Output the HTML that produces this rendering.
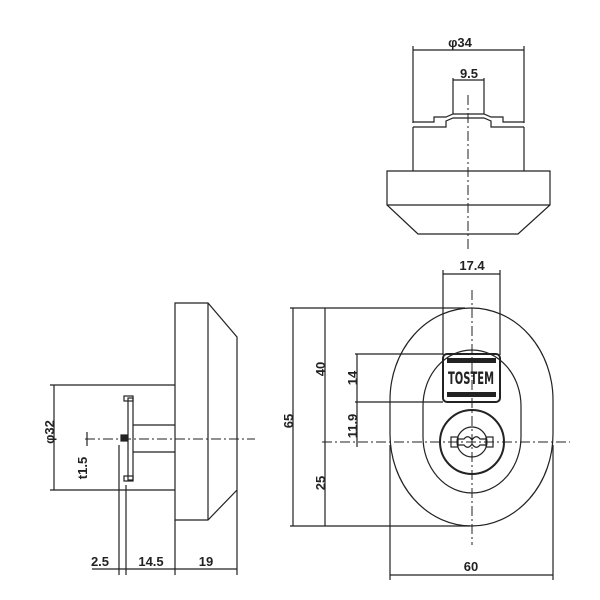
<!DOCTYPE html>
<html><head><style>body{margin:0;background:#fff}svg{display:block}text{font-family:"Liberation Sans",sans-serif;font-weight:bold;font-size:13px;fill:#222}</style></head><body>
<svg width="600" height="600" viewBox="0 0 600 600" xmlns="http://www.w3.org/2000/svg">
<g stroke="#222" fill="none" stroke-width="1.2">
<!-- Top view -->
<line x1="413" y1="50" x2="524" y2="50"/>
<line x1="413" y1="46" x2="413" y2="123"/>
<line x1="524" y1="46" x2="524" y2="123"/>
<line x1="453" y1="80" x2="484" y2="80"/>
<line x1="453" y1="78" x2="453" y2="114"/>
<line x1="484" y1="78" x2="484" y2="114"/>
<path d="M413 122 H434 V117 H446 L453 114 H484 L491 117 H503 V122 H524"/>
<path d="M413 127 H446 V121 L453 118 H484 L491 121 V127 H524"/>
<line x1="413" y1="127" x2="413" y2="171"/>
<line x1="524" y1="127" x2="524" y2="171"/>
<path d="M387 171 H550 V205 L518 234 H418 L387 205 Z"/>
<line x1="387" y1="205" x2="550" y2="205"/>
<line x1="468" y1="95" x2="468" y2="252" stroke-dasharray="10 3 2 3" stroke-width="1"/>
<!-- Front view -->
<line x1="443" y1="274" x2="500" y2="274"/>
<line x1="443" y1="270" x2="443" y2="355"/>
<line x1="500" y1="270" x2="500" y2="355"/>
<rect x="390" y="308" width="163" height="218" rx="81.5" ry="92"/>
<rect x="423" y="350" width="98" height="143" rx="49" ry="56"/>
<rect x="443" y="354" width="57" height="48" rx="4" stroke-width="2"/>
<circle cx="472" cy="442" r="32" stroke-width="2"/>
<circle cx="472" cy="442" r="15"/>
<rect x="451" y="437" width="7" height="10"/>
<rect x="486" y="437" width="7" height="10"/>
<path d="M458 439 H464 Q468 434 472 440 Q476 434 480 439 H486 M458 445 H464 Q468 450 472 444 Q476 450 480 445 H486"/>
<line x1="472" y1="290" x2="472" y2="545" stroke-dasharray="10 3 2 3" stroke-width="1"/>
<line x1="322" y1="442" x2="570" y2="442" stroke-dasharray="10 3 2 3" stroke-width="1"/>
<line x1="290" y1="308" x2="465" y2="308"/>
<line x1="290" y1="526" x2="470" y2="526"/>
<line x1="293" y1="308" x2="293" y2="526"/>
<line x1="325" y1="308" x2="325" y2="526"/>
<line x1="355" y1="354" x2="443" y2="354"/>
<line x1="355" y1="402" x2="443" y2="402"/>
<line x1="357" y1="354" x2="357" y2="447"/>
<line x1="390" y1="445" x2="390" y2="580"/>
<line x1="553" y1="445" x2="553" y2="580"/>
<line x1="390" y1="575" x2="553" y2="575"/>
<!-- Side view -->
<path d="M175 303 H208 L237 337 V490 L208 520 H175 Z"/>
<line x1="208" y1="303" x2="208" y2="520"/>
<line x1="50" y1="385" x2="175" y2="385"/>
<line x1="50" y1="490" x2="175" y2="490"/>
<line x1="54" y1="385" x2="54" y2="490"/>
<line x1="133" y1="425" x2="175" y2="425"/>
<line x1="133" y1="452" x2="175" y2="452"/>
<rect x="128" y="398" width="5" height="82"/>
<rect x="124" y="396" width="9" height="5"/>
<rect x="124" y="476" width="9" height="5"/>
<rect x="121" y="435" width="6" height="6" fill="#222"/>
<line x1="85" y1="439" x2="255" y2="439" stroke-dasharray="10 3 2 3" stroke-width="1"/>
<line x1="87" y1="432" x2="87" y2="446"/>
<line x1="119" y1="445" x2="119" y2="575"/>
<line x1="126" y1="485" x2="126" y2="575"/>
<line x1="175" y1="520" x2="175" y2="575"/>
<line x1="237" y1="490" x2="237" y2="575"/>
<line x1="92" y1="569" x2="237" y2="569"/>
</g>
<rect x="447" y="358" width="49" height="5" fill="#222"/>
<rect x="447" y="392" width="49" height="5" fill="#222"/>
<text x="471" y="384" text-anchor="middle" textLength="46" lengthAdjust="spacingAndGlyphs" style="font-size:17px;font-family:'DejaVu Sans';font-weight:bold">TOSTEM</text>
<text x="460" y="47" text-anchor="middle">φ34</text>
<text x="469" y="78" text-anchor="middle">9.5</text>
<text x="472" y="270" text-anchor="middle">17.4</text>
<text x="471" y="571" text-anchor="middle">60</text>
<text x="100" y="566" text-anchor="middle">2.5</text>
<text x="151" y="566" text-anchor="middle">14.5</text>
<text x="206" y="566" text-anchor="middle">19</text>
<text transform="translate(293,421) rotate(-90)" text-anchor="middle">65</text>
<text transform="translate(325,369) rotate(-90)" text-anchor="middle">40</text>
<text transform="translate(325,483) rotate(-90)" text-anchor="middle">25</text>
<text transform="translate(357,378) rotate(-90)" text-anchor="middle">14</text>
<text transform="translate(357,426) rotate(-90)" text-anchor="middle">11.9</text>
<text transform="translate(54,432) rotate(-90)" text-anchor="middle">φ32</text>
<text transform="translate(87,468) rotate(-90)" text-anchor="middle">t1.5</text>
</svg>
</body></html>
